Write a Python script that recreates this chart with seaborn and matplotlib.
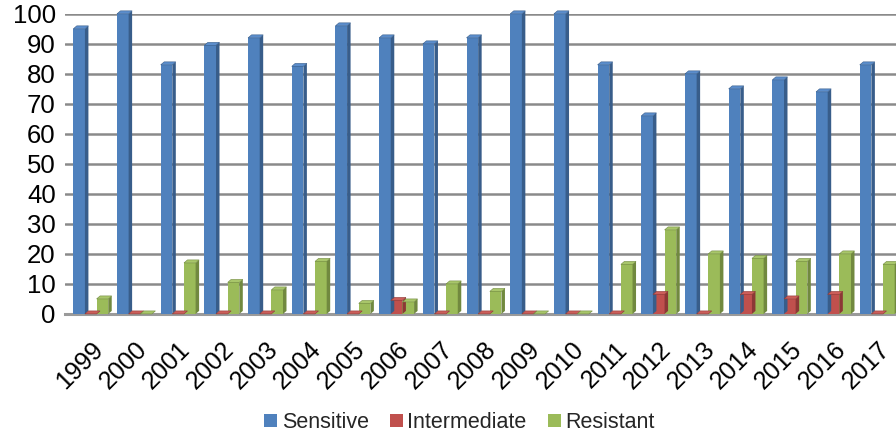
import matplotlib
matplotlib.use("Agg")
import matplotlib.pyplot as plt
from matplotlib.patches import Patch, Polygon
import seaborn as sns
import pandas as pd

years = [str(y) for y in range(1999, 2018)]
sensitive = [95, 100, 83, 89.5, 92, 82.5, 96, 92, 90, 92, 100, 100, 83, 66, 80, 75, 78, 74, 83]
intermediate = [0, 0, 0, 0, 0, 0, 0, 4.5, 0, 0, 0, 0, 0, 6.5, 0, 6.5, 5, 6.5, 0]
resistant = [5, 0, 17, 10.5, 8, 17.5, 3.5, 4, 10, 7.5, 0, 0, 16.5, 28, 20, 18.5, 17.5, 20, 16.5]
series = ["Sensitive", "Intermediate", "Resistant"]

front = {"Sensitive": "#4F81BD", "Intermediate": "#C0504D", "Resistant": "#9BBB59"}
side = {"Sensitive": "#385D8A", "Intermediate": "#8C3836", "Resistant": "#71893F"}
top = {"Sensitive": "#5B8DCB", "Intermediate": "#CC5E5A", "Resistant": "#A8C66A"}

df = pd.DataFrame({
    "year": years * 3,
    "value": sensitive + intermediate + resistant,
    "series": [s for s in series for _ in years],
})

sns.set_theme(style="white")
plt.rcParams["font.family"] = ["Liberation Sans", "DejaVu Sans"]

fig = plt.figure(figsize=(8.96, 4.33), dpi=100)
ax = fig.add_axes([0.073, 0.275, 0.927, 0.693])

sns.barplot(data=df, x="year", y="value", hue="series", hue_order=series,
            palette=front, width=0.8, saturation=1, linewidth=0, ax=ax,
            legend=False, zorder=3)

# fake 3D: darker right side and a top cap on every bar
dx, dy = 0.08, 1.0
for cont, name in zip(ax.containers, series):
    for p in cont.patches:
        x0 = p.get_x()
        x1 = x0 + p.get_width()
        h = p.get_height()
        ax.add_patch(Polygon([(x1, 0), (x1 + dx, dy), (x1 + dx, h + dy), (x1, h)],
                             closed=True, facecolor=side[name], edgecolor="none",
                             zorder=4, clip_on=False))
        ax.add_patch(Polygon([(x0, h), (x1, h), (x1 + dx, h + dy), (x0 + dx, h + dy)],
                             closed=True, facecolor=top[name], edgecolor=side[name],
                             linewidth=0.4, zorder=4, clip_on=False))

ax.set_xlim(-0.58, 18.43)
ax.set_ylim(0, 100)
ax.set_yticks(range(0, 101, 10))
ax.yaxis.grid(True, color="#8A8A8A", linewidth=1.8, zorder=0)
ax.set_axisbelow(True)
for s in ["top", "right", "left"]:
    ax.spines[s].set_visible(False)
ax.spines["bottom"].set_color("#9A9A9A")
ax.spines["bottom"].set_linewidth(2.2)

ax.tick_params(axis="y", length=0, pad=7, labelsize=18.5, labelcolor="black")
ax.tick_params(axis="x", length=0, pad=17, labelsize=18, labelcolor="black")
plt.setp(ax.get_xticklabels(), rotation=45, ha="right", rotation_mode="anchor")
ax.set_xlabel("")
ax.set_ylabel("")

handles = [Patch(facecolor=front[s], edgecolor="none", label=s) for s in series]
fig.legend(handles=handles, loc="lower center", bbox_to_anchor=(0.513, -0.045),
           ncol=3, frameon=False, fontsize=15.5, handlelength=0.6, handleheight=0.6,
           handletextpad=0.2, columnspacing=1.0)

fig.savefig("out.png", dpi=100)
